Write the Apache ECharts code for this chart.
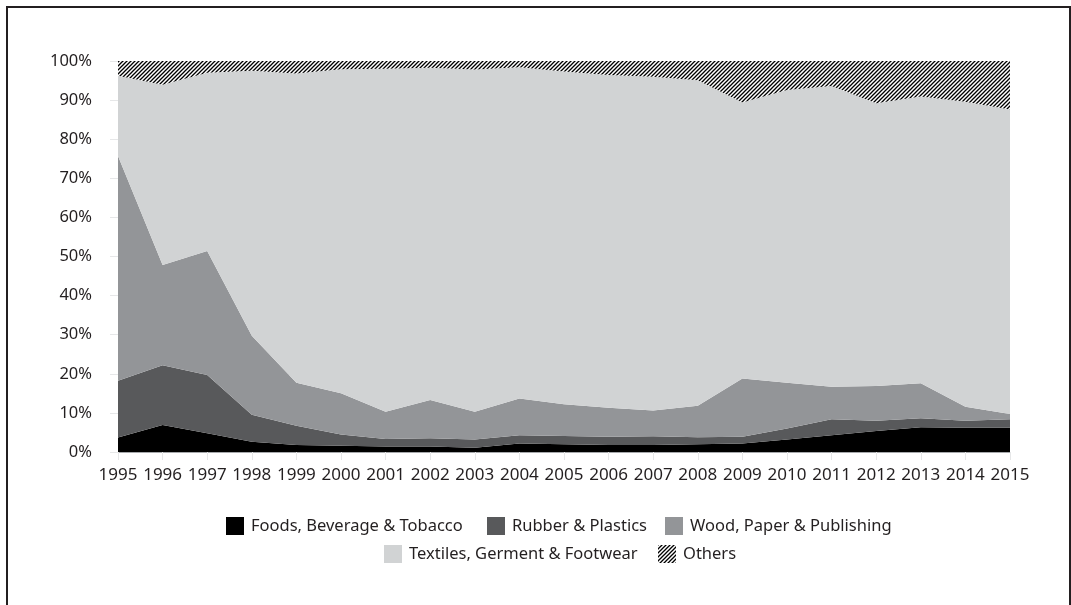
<!DOCTYPE html>
<html>
<head>
<meta charset="utf-8">
<script src="https://cdn.jsdelivr.net/npm/echarts@6/dist/echarts.min.js"></script>
<style>
  html, body { margin: 0; padding: 0; background: #fff; }
  #chart { width: 1071px; height: 605px; }
</style>
</head>
<body>
<div id="chart"></div>
<script>
const years = ['1995','1996','1997','1998','1999','2000','2001','2002','2003','2004','2005','2006','2007','2008','2009','2010','2011','2012','2013','2014','2015'];
const foods    = [3.7, 6.9, 4.8, 2.6, 1.8, 1.6, 1.4, 1.4, 1.1, 2.2, 2.0, 1.8, 1.8, 2.0, 2.2, 3.2, 4.3, 5.4, 6.3, 6.2, 6.2];
const rubber   = [14.5, 15.3, 14.9, 6.9, 4.9, 2.9, 1.9, 2.1, 2.1, 2.1, 2.1, 2.1, 2.2, 1.8, 1.7, 2.8, 4.1, 2.6, 2.3, 1.8, 2.2];
const wood     = [57.5, 25.6, 31.7, 20.2, 11.0, 10.5, 7.0, 9.8, 7.1, 9.4, 8.1, 7.4, 6.6, 8.0, 14.9, 11.7, 8.3, 8.9, 9.0, 3.6, 1.3];
const textiles = [20.5, 46.1, 45.6, 67.8, 79.1, 82.9, 87.7, 85.0, 87.5, 84.7, 85.1, 85.1, 85.4, 83.3, 70.6, 74.9, 76.9, 72.3, 73.3, 78.0, 77.9];
const others   = [3.8, 6.1, 3.0, 2.5, 3.2, 2.1, 2.0, 1.7, 2.2, 1.6, 2.7, 3.6, 4.0, 4.9, 10.6, 7.4, 6.4, 10.8, 9.1, 10.4, 12.4];
const seriesNames = ['Foods, Beverage & Tobacco', 'Rubber & Plastics', 'Wood, Paper & Publishing', 'Textiles, Germent & Footwear', 'Others'];

// hatch pattern for "Others"
const pc = document.createElement('canvas');
pc.width = 4; pc.height = 4;
const px = pc.getContext('2d');
px.fillStyle = '#ffffff';
px.fillRect(0, 0, 4, 4);
px.strokeStyle = '#000000';
px.lineWidth = 1.3;
px.beginPath();
px.moveTo(-1, 5); px.lineTo(5, -1);
px.moveTo(-1, 1); px.lineTo(1, -1);
px.moveTo(3, 5); px.lineTo(5, 3);
px.stroke();
const hatch = { image: pc, repeat: 'repeat' };

const font = '"Noto Sans", "Open Sans", sans-serif';
const txt = '#231f20';

function mk(name, data, color) {
  return {
    name: name, type: 'line', stack: 'total', data: data,
    symbol: 'none', smooth: false,
    lineStyle: { width: 0 },
    areaStyle: { color: color, opacity: 1 },
    itemStyle: { color: color },
    emphasis: { disabled: true }
  };
}

function leg(name, left, top) {
  return {
    data: [name], left: left, top: top, padding: 0,
    itemWidth: 18, itemHeight: 18, icon: 'rect',
    textStyle: { fontFamily: font, fontSize: 16.5, color: txt, padding: [0, 0, 0, 2] },
    selectedMode: false
  };
}

const chart = echarts.init(document.getElementById('chart'), null, { renderer: 'canvas' });
chart.setOption({
  animation: false,
  backgroundColor: '#ffffff',
  graphic: [{
    type: 'rect', shape: { x: 7, y: 7, width: 1063, height: 700 },
    style: { fill: 'none', stroke: '#231f20', lineWidth: 2 }, silent: true
  }],
  grid: { left: 118, right: 61, top: 61, bottom: 153 },
  legend: [
    leg(seriesNames[0], 226, 517),
    leg(seriesNames[1], 487, 517),
    leg(seriesNames[2], 665, 517),
    leg(seriesNames[3], 384, 545),
    leg(seriesNames[4], 658, 545)
  ],
  xAxis: {
    type: 'category', data: years, boundaryGap: false,
    axisLine: { show: true, lineStyle: { color: '#a7a9ac', width: 1 } },
    axisTick: { show: true, alignWithLabel: true, length: 8, lineStyle: { color: '#e6e7e8' } },
    axisLabel: { fontFamily: font, fontSize: 17, color: txt, margin: 15, interval: 0 },
    splitLine: { show: false }
  },
  yAxis: {
    type: 'value', min: 0, max: 100, interval: 10,
    axisLine: { show: false },
    axisTick: { show: true, length: 8, lineStyle: { color: '#e6e7e8' } },
    axisLabel: { fontFamily: font, fontSize: 16.5, color: txt, margin: 26,
      formatter: function (v) { return v + '%'; } },
    splitLine: { show: true, lineStyle: { color: '#e6e7e8' } }
  },
  series: [
    mk(seriesNames[0], foods, '#000000'),
    mk(seriesNames[1], rubber, '#58595b'),
    mk(seriesNames[2], wood, '#939598'),
    mk(seriesNames[3], textiles, '#d1d3d4'),
    mk(seriesNames[4], others, hatch)
  ]
});
</script>
</body>
</html>
